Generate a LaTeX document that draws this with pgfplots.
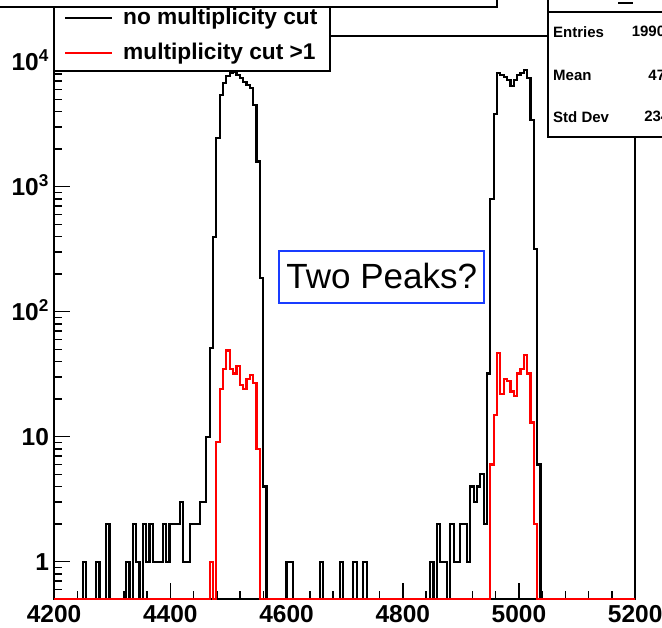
\documentclass[border=0pt]{standalone}
\usepackage{pgfplots}
\pgfplotsset{compat=1.18}
\usepackage{fontspec}
\setmainfont{Liberation Sans}

\definecolor{histred}{RGB}{255,0,0}
\definecolor{boxblue}{RGB}{25,60,255}

\begin{document}
\begin{tikzpicture}[x=1pt,y=1pt]
\begin{axis}[
  at={(54.1pt,28.7pt)}, anchor=south west,
  scale only axis, width=581.1pt, height=563.3pt,
  xmin=4200, xmax=5200,
  ymode=log, ymin=0.5, ymax=16058,
  axis line style={line width=2pt},
  tick align=inside,
  xtick pos=left, ytick pos=left,
  major tick length=16pt, minor tick length=8pt,
  every tick/.append style={line width=1.5pt, black},
  every minor tick/.append style={line width=1.5pt, black},
  xtick={4200,4400,4600,4800,5000,5200},
  xticklabels={4200,4400,4600,4800,5000,5200},
  minor x tick num=4,
  ytick={1,10,100,1000,10000},
  yticklabels={1,10,10\textsuperscript{2},10\textsuperscript{3},10\textsuperscript{4}},
  minor ytick={0.6,0.7,0.8,0.9,2,3,4,5,6,7,8,9,20,30,40,50,60,70,80,90,
               200,300,400,500,600,700,800,900,2000,3000,4000,5000,6000,7000,8000,9000},
  tick label style={font=\fontsize{24.5}{26}\selectfont\bfseries},
  xticklabel style={inner sep=0pt, yshift=-5.5pt},
  yticklabel style={anchor=base east, inner sep=0pt, xshift=-5pt, yshift=-8.8pt},
]
% no multiplicity cut (bin width 5.75, empty bins at the floor 0.5)
\addplot[const plot mark left, mark=none, black, line width=2.2pt] coordinates {
(4180.25,0.5)
(4249.25,1) (4255,0.5)
(4272.25,1) (4278,0.5)
(4289.5,2) (4295.25,0.5)
(4324,1) (4329.75,0.5)
(4335.5,2) (4341.25,1) (4347,0.5) (4352.75,2) (4358.5,1) (4364.25,2) (4370,1)
(4387.25,2) (4393,1) (4398.75,2) (4416,3) (4421.75,1) (4433.25,2) (4450.5,3)
(4462,10) (4467.75,51) (4473.5,395) (4479.25,2440) (4485,5420) (4490.75,6720)
(4496.5,7690) (4502.25,8080) (4508,8300) (4513.75,7830) (4519.5,7360) (4525.25,6920)
(4531,6510) (4536.75,6120) (4542.5,4500) (4548.25,1590) (4554,185) (4559.75,4) (4565.5,0.5)
(4600,1) (4611.5,0.5)
(4657.5,1) (4663.25,0.5)
(4692,1) (4697.75,0.5)
(4715,1) (4720.75,0.5)
(4732.25,1) (4738,0.5)
(4847.25,1) (4853,0.5) (4858.75,2) (4864.5,1) (4876,0.5) (4881.75,2) (4887.5,1)
(4899,2) (4910.5,1) (4916.25,4) (4922,3) (4927.75,4) (4933.5,5) (4939.25,2)
(4945,32) (4950.75,800) (4956.5,3800) (4962.25,8170) (4968,7830) (4973.75,7500)
(4979.5,7140) (4985.25,6400) (4991,7140) (4996.75,7830) (5002.5,8170) (5008.25,8600)
(5014,7360) (5019.75,3400) (5025.5,316) (5031.25,6) (5037,0.5) (5203.75,0.5)
};
% multiplicity cut > 1
\addplot[const plot mark left, mark=none, histred, line width=2.2pt] coordinates {
(4180.25,0.5) (4467.75,1) (4473.5,0.5)
(4479.25,9) (4485,24) (4490.75,35) (4496.5,49) (4502.25,35) (4508,32) (4513.75,37)
(4519.5,26) (4525.25,24) (4531,29) (4536.75,31) (4542.5,27) (4548.25,8) (4554,0.5)
(4950.75,6) (4956.5,15) (4962.25,47) (4968,22) (4973.75,29) (4979.5,28) (4985.25,23)
(4991,21) (4996.75,32) (5002.5,35) (5008.25,45) (5014,32) (5019.75,13) (5025.5,2)
(5031.25,0.5) (5203.75,0.5)
};
\end{axis}

% title box edge along the top
\draw[line width=1.5pt] (-5,621) -- (497,621) -- (497,640);

% legend
\draw[line width=1.6pt, fill=white] (54,557) rectangle (330,621);
\draw[line width=2pt, black] (65,609.7) -- (112,609.7);
\draw[line width=2pt, histred] (65,574.7) -- (112,574.7);
\node[anchor=west, inner sep=0pt, font=\fontsize{22.7}{26}\selectfont\bfseries] at (123,609.7) {no multiplicity cut};
\node[anchor=west, inner sep=0pt, font=\fontsize{22.7}{26}\selectfont\bfseries] at (123,574.7) {multiplicity cut >1};

% statistics box
\draw[line width=1.7pt, fill=white] (548,491) rectangle (720,640);
\draw[line width=1.5pt] (548,616) -- (720,616);
\draw[line width=1.5pt] (618,625) -- (633,625);
\begin{scope}[every node/.style={inner sep=0pt, font=\fontsize{15}{17}\selectfont\bfseries}]
\node[anchor=west] at (553,596.3) {Entries};
\node[anchor=west] at (553,553) {Mean};
\node[anchor=west] at (553,511.3) {Std Dev};
\node[anchor=east] at (682,596.3) {199060};
\node[anchor=east] at (682,553) {4765};
\node[anchor=east] at (682,511.3) {234.9};
\end{scope}

% annotation
\draw[line width=1.8pt, boxblue, fill=white] (279.3,325.3) rectangle (484.3,377.3);
\node[anchor=base, inner sep=0pt, font=\fontsize{35}{40}\selectfont] at (381.8,339.7) {Two Peaks?};

\pgfresetboundingbox
\useasboundingbox (0,0) rectangle (662,628);
\end{tikzpicture}
\end{document}
